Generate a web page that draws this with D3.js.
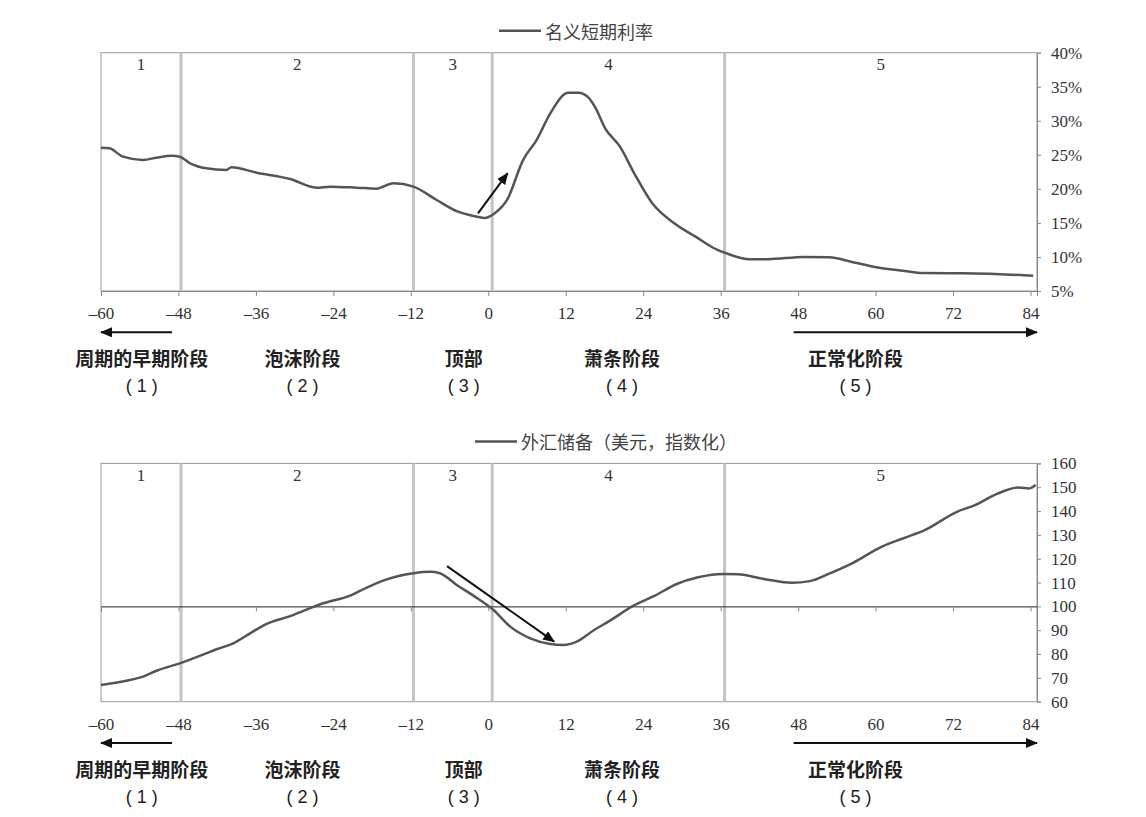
<!DOCTYPE html>
<html>
<head>
<meta charset="utf-8">
<script src="https://cdn.jsdelivr.net/npm/d3@7"></script>
<style>
  body { margin: 0; background: #fff; }
  .cn { font-family: "Noto Sans CJK SC", sans-serif; }
  .serif { font-family: "Liberation Serif", "Times New Roman", "DejaVu Serif", serif; }
  .code { font-family: "Liberation Sans", Arial, sans-serif; }
</style>
</head>
<body>
<svg id="chart" width="1146" height="817"></svg>
<script>
// months relative to the top of the cycle
var xTicks = [-60, -48, -36, -24, -12, 0, 12, 24, 36, 48, 60, 72, 84];
var phaseBreaks = [-47.6, -11.6, 0.6, 36.6];
var phaseNumbers = ['1', '2', '3', '4', '5'];
var phaseNames = ['周期的早期阶段', '泡沫阶段', '顶部', '萧条阶段', '正常化阶段'];
var phaseCodes = ['( 1 )', '( 2 )', '( 3 )', '( 4 )', '( 5 )'];
var phaseCenters = [-53.7, -28.8, -3.8, 20.7, 56.9];
var backArrow = [-49, -60];
var forwardArrow = [47.3, 85];

// nominal short rate, %
var rateMonths = [-60, -58.7, -56.6, -53.5, -51.4, -49.1, -47.8, -46.2, -43.7, -40.6, -39.8, -35.9, -30.7, -26.6, -24.5, -20.4, -17.3, -14.7, -11.6, -8, -4.7, -2.3, -0.6, 1, 2.9, 5.4, 7.5, 9.6, 12.4, 14, 15.4, 16.5, 18.1, 20.4, 22.6, 25.4, 28.8, 32.1, 35.5, 36.6, 40.5, 43.3, 48.9, 52.8, 56.2, 60.1, 64.5, 67.3, 72.9, 78.5, 84.4];
var rateValues = [26.05, 25.96, 24.73, 24.25, 24.58, 24.88, 24.73, 23.76, 23.03, 22.78, 23.17, 22.38, 21.45, 20.18, 20.33, 20.18, 20.03, 20.82, 20.33, 18.37, 16.65, 16.02, 15.73, 16.42, 18.37, 24.25, 27.2, 31.1, 34.13, 34.13, 33.5, 32.07, 28.9, 26.2, 22.29, 17.89, 14.95, 12.98, 11.03, 10.63, 9.66, 9.66, 10.0, 9.95, 9.31, 8.49, 7.94, 7.65, 7.6, 7.5, 7.25];
var rateTicks = [5, 10, 15, 20, 25, 30, 35, 40];
var rateArrow = [[-1.6, 16.4], [3.0, 22.3]];

// FX reserves, USD, indexed
var reserveMonths = [-60, -56.1, -53.5, -51.4, -47.8, -44.7, -42.1, -39.5, -36.9, -34.4, -30.7, -25.6, -21.4, -18.9, -16.3, -11.6, -9, -7.5, -4.9, -2.3, 0.8, 3.4, 6.5, 9.6, 11.6, 13.7, 16.4, 18.6, 22.5, 25.8, 29.2, 32.5, 36.4, 38.6, 43.1, 47, 49.8, 53.1, 56.5, 60.9, 64.2, 67.6, 72.6, 75.4, 78.7, 82.1, 83.8, 84.8];
var reserveValues = [67.0, 68.8, 70.5, 73.0, 76.1, 79.2, 82.0, 84.5, 88.7, 92.6, 95.9, 101.3, 104.5, 107.8, 110.8, 113.9, 114.5, 113.9, 109.0, 104.5, 98.5, 91.5, 86.6, 84.2, 83.8, 85.2, 90.1, 93.6, 100.3, 104.5, 109.4, 112.2, 113.6, 113.5, 111.3, 109.9, 110.6, 114.1, 118.3, 125.0, 128.5, 132.0, 139.7, 142.5, 147.1, 149.9, 149.5, 150.9];
var reserveTicks = [60, 70, 80, 90, 100, 110, 120, 130, 140, 150, 160];
var reserveArrow = [[-6.4, 116.9], [10.2, 85.2]];

var svg = d3.select('#chart');
var x = d3.scaleLinear().domain([-60, 85]).range([101, 1037]);
var plotTop = 52.7, plotBottom = 291;

var monthFormat = function(d){ return d < 0 ? '\u2013' + (-d) : String(d); };

svg.append('defs').append('marker')
  .attr('id', 'head')
  .attr('viewBox', '0 0 12 10')
  .attr('refX', 11)
  .attr('refY', 5)
  .attr('markerWidth', 12)
  .attr('markerHeight', 10)
  .attr('markerUnits', 'userSpaceOnUse')
  .attr('orient', 'auto')
  .append('path')
    .attr('d', 'M0,0L12,5L0,10Z')
    .attr('fill', '#111');

function serifText(sel){
  sel.attr('class', 'serif')
    .style('font-family', '"Liberation Serif", "Times New Roman", "DejaVu Serif", serif')
    .style('font-size', '17px')
    .attr('fill', '#333');
}

function drawPanel(opts){
  var g = svg.append('g').attr('transform', 'translate(0,' + opts.offset + ')');
  var y = d3.scaleLinear().domain(opts.domain).range([plotBottom, plotTop]);

  // plot frame
  g.append('rect')
    .attr('x', x(-60)).attr('y', plotTop)
    .attr('width', x(85) - x(-60)).attr('height', plotBottom - plotTop)
    .attr('fill', 'none').attr('stroke', '#999').attr('stroke-width', 1);

  // phase separators
  g.selectAll('line.phase').data(phaseBreaks).enter().append('line')
    .attr('class', 'phase')
    .attr('x1', function(d){ return x(d); }).attr('x2', function(d){ return x(d); })
    .attr('y1', plotTop).attr('y2', plotBottom)
    .attr('stroke', '#c4c4c4').attr('stroke-width', 3);

  var edges = [-60].concat(phaseBreaks, [85]);
  g.selectAll('text.num').data(phaseNumbers).enter().append('text')
    .attr('x', function(d, i){ return (x(edges[i]) + x(edges[i + 1])) / 2; })
    .attr('y', 64.5)
    .attr('dy', '0.35em')
    .attr('text-anchor', 'middle')
    .text(function(d){ return d; })
    .call(serifText);

  // axis through the base value (ticks only)
  var base = g.append('g')
    .attr('transform', 'translate(0,' + y(opts.base) + ')')
    .call(d3.axisBottom(x).tickValues(xTicks).tickSize(5).tickFormat(''));
  base.select('.domain').attr('stroke', opts.baseColor);
  base.selectAll('.tick line').attr('stroke', '#888');

  // month labels along the bottom
  var lab = g.append('g')
    .attr('transform', 'translate(0,' + plotBottom + ')')
    .call(d3.axisBottom(x).tickValues(xTicks).tickSize(0).tickPadding(16).tickFormat(monthFormat));
  lab.select('.domain').remove();
  lab.selectAll('text').call(serifText);

  // right value axis
  var ax = g.append('g')
    .attr('transform', 'translate(' + x(85) + ',0)')
    .call(d3.axisRight(y).tickValues(opts.ticks).tickSize(4).tickPadding(10).tickFormat(opts.format));
  ax.select('.domain').attr('stroke', '#888');
  ax.selectAll('.tick line').attr('stroke', '#888');
  ax.selectAll('text').call(serifText);

  // series
  var line = d3.line()
    .x(function(d){ return x(d[0]); })
    .y(function(d){ return y(d[1]); })
    .curve(d3.curveMonotoneX);
  g.append('path')
    .datum(d3.zip(opts.months, opts.values))
    .attr('d', line)
    .attr('fill', 'none')
    .attr('stroke', '#555')
    .attr('stroke-width', 2.5)
    .attr('stroke-linejoin', 'round');

  // direction arrow
  g.append('line')
    .attr('x1', x(opts.arrow[0][0])).attr('y1', y(opts.arrow[0][1]))
    .attr('x2', x(opts.arrow[1][0])).attr('y2', y(opts.arrow[1][1]))
    .attr('stroke', '#111').attr('stroke-width', 2)
    .attr('marker-end', 'url(#head)');

  // legend
  g.append('line')
    .attr('x1', opts.legendEnd - 42).attr('x2', opts.legendEnd)
    .attr('y1', 30.7).attr('y2', 30.7)
    .attr('stroke', '#555').attr('stroke-width', 2.5);
  g.append('text')
    .attr('class', 'cn')
    .attr('x', opts.legendEnd + 4).attr('y', 30.7)
    .attr('dominant-baseline', 'central')
    .attr('font-size', 18)
    .attr('fill', '#444')
    .text(opts.legend);

  // phase captions under the chart
  [backArrow, forwardArrow].forEach(function(a){
    g.append('line')
      .attr('x1', x(a[0])).attr('x2', x(a[1]))
      .attr('y1', 332.3).attr('y2', 332.3)
      .attr('stroke', '#111').attr('stroke-width', 2)
      .attr('marker-end', 'url(#head)');
  });
  g.selectAll('text.name').data(phaseNames).enter().append('text')
    .attr('class', 'name cn')
    .attr('x', function(d, i){ return x(phaseCenters[i]); })
    .attr('y', 357.5)
    .attr('dominant-baseline', 'central')
    .attr('text-anchor', 'middle')
    .attr('font-size', 19)
    .attr('font-weight', 'bold')
    .attr('fill', '#222')
    .text(function(d){ return d; });
  g.selectAll('text.code').data(phaseCodes).enter().append('text')
    .attr('class', 'code')
    .attr('x', function(d, i){ return x(phaseCenters[i]); })
    .attr('y', 386)
    .attr('dominant-baseline', 'central')
    .attr('text-anchor', 'middle')
    .attr('font-size', 18)
    .attr('fill', '#222')
    .text(function(d){ return d; });
}

drawPanel({
  offset: 0,
  domain: [5, 40],
  ticks: rateTicks,
  format: function(d){ return d + '%'; },
  base: 5,
  baseColor: '#888',
  months: rateMonths,
  values: rateValues,
  arrow: rateArrow,
  legend: '名义短期利率',
  legendEnd: 541
});

drawPanel({
  offset: 410.7,
  domain: [60, 160],
  ticks: reserveTicks,
  format: function(d){ return d; },
  base: 100,
  baseColor: '#222',
  months: reserveMonths,
  values: reserveValues,
  arrow: reserveArrow,
  legend: '外汇储备（美元，指数化）',
  legendEnd: 517
});
</script>
</body>
</html>
